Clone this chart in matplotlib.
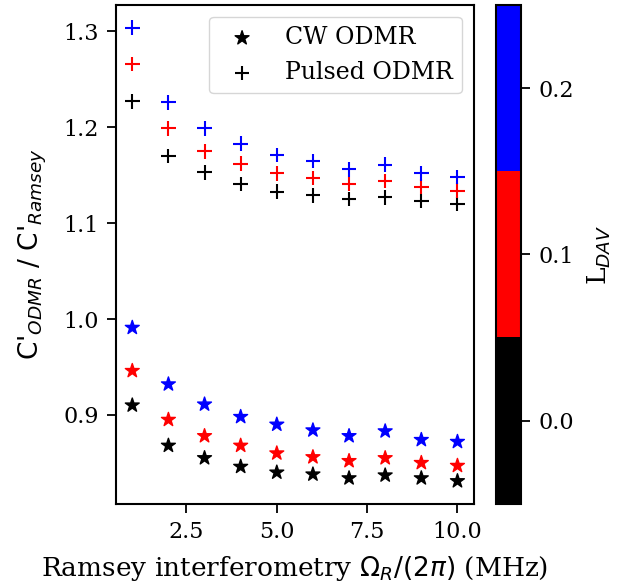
import numpy as np
import matplotlib
matplotlib.use('Agg')
import matplotlib.pyplot as plt
from matplotlib.colors import ListedColormap

plt.rcParams['font.family'] = 'DejaVu Serif'
plt.rcParams['font.size'] = 19
plt.rcParams['xtick.labelsize'] = 16
plt.rcParams['ytick.labelsize'] = 16
plt.rcParams['axes.linewidth'] = 1.5
for a in ['xtick', 'ytick']:
    plt.rcParams[a + '.major.size'] = 6.5
    plt.rcParams[a + '.major.width'] = 1.3
    plt.rcParams[a + '.major.pad'] = 6

# Ramsey Rabi frequency (MHz)
omega = [1, 2, 3, 4, 5, 6, 7, 8, 9, 10]
L_dav = [0.0, 0.1, 0.2]

# pulsed ODMR / Ramsey, one row per L_DAV
pulsed = [
    [1.227, 1.170, 1.153, 1.141, 1.133, 1.129, 1.125, 1.127, 1.123, 1.120],
    [1.266, 1.199, 1.175, 1.162, 1.152, 1.147, 1.141, 1.144, 1.138, 1.134],
    [1.304, 1.226, 1.199, 1.183, 1.171, 1.165, 1.156, 1.161, 1.152, 1.148],
]

# cw ODMR / Ramsey
cw = [
    [0.910, 0.868, 0.855, 0.846, 0.840, 0.838, 0.834, 0.837, 0.834, 0.831],
    [0.946, 0.895, 0.878, 0.868, 0.860, 0.856, 0.852, 0.855, 0.850, 0.847],
    [0.991, 0.932, 0.911, 0.898, 0.890, 0.884, 0.878, 0.883, 0.874, 0.872],
]

cmap = ListedColormap(['black', 'red', 'blue'])

fig = plt.figure(figsize=(6.41, 5.84), dpi=100)
ax = fig.add_axes([0.181, 0.1375, 0.558, 0.854])
cax = fig.add_axes([0.774, 0.1375, 0.039, 0.854])

for i, L in enumerate(L_dav):
    sc = ax.scatter(omega, cw[i], c=[L] * len(omega), cmap=cmap, vmin=-0.05, vmax=0.25,
                    marker='*', s=110, label='CW ODMR' if i == 0 else None)
    ax.scatter(omega, pulsed[i], c=[L] * len(omega), cmap=cmap, vmin=-0.05, vmax=0.25,
               marker='+', s=110, linewidths=1.5, label='Pulsed ODMR' if i == 0 else None)

ax.set_xlabel(r'Ramsey interferometry $\Omega_R/(2\pi)$ (MHz)', labelpad=8)
ax.set_ylabel(r"C'$_{ODMR}$ / C'$_{Ramsey}$", family='DejaVu Sans', labelpad=10)
ax.set_xticks([2.5, 5.0, 7.5, 10.0])
ax.set_yticks([0.9, 1.0, 1.1, 1.2, 1.3])
ax.legend(loc='upper right', fontsize=17)

cb = fig.colorbar(sc, cax=cax)
cb.set_ticks([0.0, 0.1, 0.2])
cb.set_label(r'L$_{DAV}$', labelpad=8)
cb.outline.set_linewidth(1.5)

fig.savefig('out.png', dpi=100)
